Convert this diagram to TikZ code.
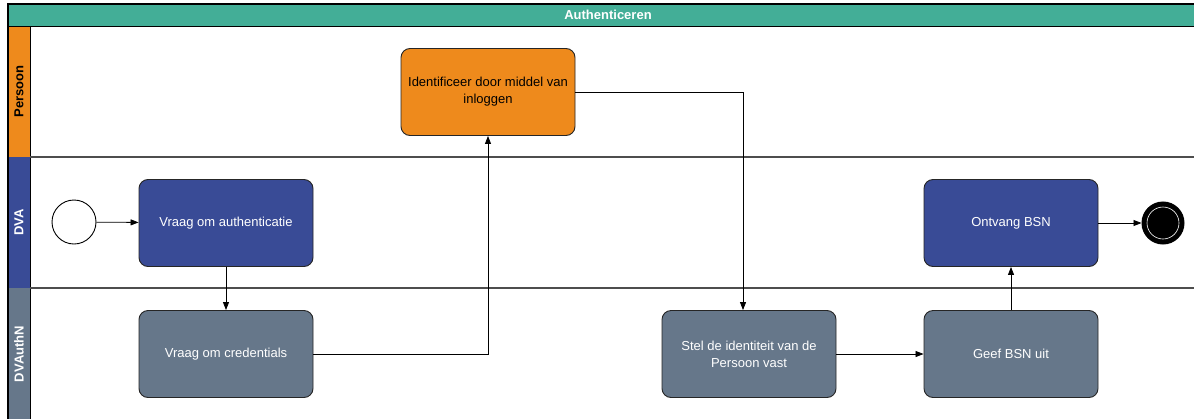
\documentclass[tikz,border=0pt]{standalone}
\usepackage{fontspec}
\setmainfont{Liberation Sans}
\usetikzlibrary{arrows.meta,positioning}
\definecolor{titlegreen}{HTML}{43AE97}
\definecolor{persoonorange}{HTML}{EE8A1C}
\definecolor{dvablue}{HTML}{394B96}
\definecolor{authngrey}{HTML}{66778A}
\definecolor{laneline}{HTML}{4D4D4D}

\begin{document}
\begin{tikzpicture}[x=1pt,y=-1pt,
	task/.style={draw=black!85, line width=0.9pt, rounded corners=9pt,
		minimum width=174pt, minimum height=87pt, align=center,
		font=\fontsize{13}{17}\selectfont},
	dvatask/.style={task, fill=dvablue, text=white},
	authntask/.style={task, fill=authngrey, text=white},
	persoontask/.style={task, fill=persoonorange, text=black},
	lanelabel/.style={rotate=90, font=\bfseries\fontsize{13}{15}\selectfont},
	flow/.style={draw=black, line width=0.8pt, -{Triangle[length=8pt,width=6pt]}}]
	\useasboundingbox (0,0) rectangle (1194,418);
	\clip (0,0) rectangle (1194,418);

	% Pool and title bar
	\fill[white] (8,4) rectangle (1200,425);
	\fill[titlegreen] (8,4) rectangle (1200,26);
	\node[text=white, font=\bfseries\fontsize{13}{15}\selectfont] (title) at (608,15) {Authenticeren};

	% Lane headers
	\fill[persoonorange] (8,26) rectangle (30,157);
	\fill[dvablue] (8,157) rectangle (30,288);
	\fill[authngrey] (8,288) rectangle (30,425);
	\node[lanelabel, text=black] (persoonlane) at (19,91.5) {Persoon};
	\node[lanelabel, text=white] (dvalane) at (19,222.5) {DVA};
	\node[lanelabel, text=white] (authnlane) at (19,354) {DVAuthN};

	% Lane lines
	\draw[line width=1pt] (8,26) -- (1200,26);
	\draw[line width=1pt] (30,26) -- (30,425);
	\draw[laneline, line width=1.2pt] (30,157) -- (1200,157);
	\draw[laneline, line width=1.2pt] (30,288) -- (1200,288);
	\draw[line width=1.2pt] (1200,4) -- (8,4) -- (8,425);

	% Events
	\node[draw=black, line width=0.9pt, fill=white, circle, minimum size=44pt, inner sep=0pt] (start) at (74,222) {};
	\node[draw=black, line width=3pt, fill=black, circle, minimum size=40pt, inner sep=0pt] (end) at (1163,223) {};
	\draw[white, line width=0.6pt] (end.center) circle (16);

	% Tasks
	\node[dvatask] (vraagauth) at (226,223) {Vraag om authenticatie};
	\node[authntask] (vraagcred) at (226,354) {Vraag om credentials};
	\node[persoontask] (identificeer) at (488,92) {Identificeer door middel van\\inloggen};
	\node[authntask] (stel) at (749,354) {Stel de identiteit van de\\Persoon vast};
	\node[authntask] (geef) at (1011,354) {Geef BSN uit};
	\node[dvatask] (ontvang) at (1011,223) {Ontvang BSN};

	% Sequence flows
	\coordinate (bend) at (743,92);
	\draw[flow] (start) -- (vraagauth);
	\draw[flow] (vraagauth) -- (vraagcred);
	\draw[flow] (vraagcred.east) -| (identificeer.south);
	\draw[flow] (identificeer.east) -- (bend) -- (bend |- stel.north);
	\draw[flow] (stel) -- (geef);
	\draw[flow] (geef) -- (ontvang);
	\draw[flow] (ontvang) -- (end);
\end{tikzpicture}
\end{document}
